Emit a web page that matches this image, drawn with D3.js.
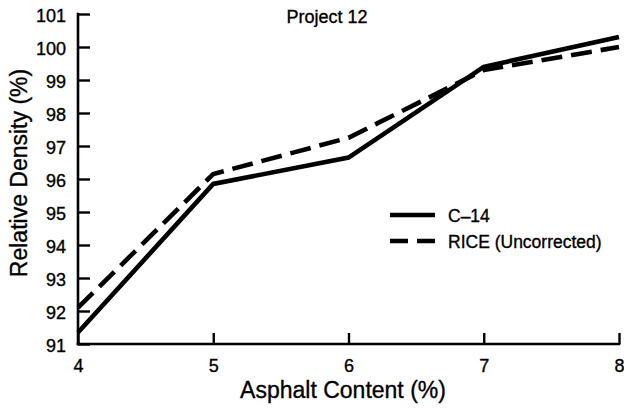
<!DOCTYPE html>
<html>
<head>
<meta charset="utf-8">
<script src="https://cdn.jsdelivr.net/npm/d3@7"></script>
<style>
  html, body { margin: 0; padding: 0; background: #fff; }
  svg { display: block; }
  text { font-family: "Liberation Sans", Arial, Helvetica, sans-serif; fill: #000;
         stroke: #000; stroke-width: 0.35px; }
</style>
</head>
<body>
<script>
// Asphalt content (%) on the x axis
const asphaltContent = [4, 5, 6, 7, 8];
// Relative density (%) for each method
const c14Density = [91.35, 95.85, 96.65, 99.4, 100.3];
const riceDensity = [92.1, 96.15, 97.25, 99.3, 100.0];
const seriesNames = ["C\u201314", "RICE (Uncorrected)"];
const xTicks = [4, 5, 6, 7, 8];
const yTicks = [91, 92, 93, 94, 95, 96, 97, 98, 99, 100, 101];
const chartTitle = "Project 12";
const xTitle = "Asphalt Content (%)";
const yTitle = "Relative Density (%)";

const W = 624, H = 413;
const plotLeft = 78, plotRight = 619, plotTop = 14, plotBottom = 344;

const svg = d3.select("body").append("svg")
  .attr("width", W).attr("height", H);
svg.append("rect").attr("width", W).attr("height", H).attr("fill", "#fff");

const x = d3.scaleLinear().domain([4, 8]).range([plotLeft, plotRight]);
const y = d3.scaleLinear().domain([91, 101]).range([plotBottom, plotTop]);

// Axes: ticks point inward, into the plot area
const xAxis = d3.axisBottom(x).tickValues(xTicks).tickSize(-11).tickPadding(15)
  .tickFormat(d3.format("d"));
const yAxis = d3.axisLeft(y).tickValues(yTicks).tickSize(-12).tickPadding(12)
  .tickFormat(d3.format("d"));

const gx = svg.append("g").attr("transform", `translate(0,${plotBottom})`).call(xAxis);
const gy = svg.append("g").attr("transform", `translate(${plotLeft},0)`).call(yAxis);

[gx, gy].forEach(g => {
  g.select(".domain").attr("stroke", "#000").attr("stroke-width", 2.6)
    .attr("stroke-linecap", "square");
  g.selectAll(".tick line").attr("stroke", "#000").attr("stroke-width", 2.4);
  g.selectAll(".tick text")
    .style("font-family", '"Liberation Sans", Arial, sans-serif')
    .style("font-size", "18px").attr("fill", "#000");
});
gx.select(".domain").attr("d", `M${plotLeft},0H${plotRight}`);
gy.select(".domain").attr("d", `M0,${plotTop}V${plotBottom}`);
gx.selectAll(".tick text").attr("dy", "0.71em");
gy.selectAll(".tick text").attr("dy", "0.42em");

// Data lines
const line = d3.line().x((d, i) => x(asphaltContent[i])).y(d => y(d));
const series = [
  { name: seriesNames[0], values: c14Density, dash: null },
  { name: seriesNames[1], values: riceDensity, dash: "21,9" }
];
series.forEach(s => {
  svg.append("path")
    .datum(s.values)
    .attr("d", line)
    .attr("fill", "none")
    .attr("stroke", "#000")
    .attr("stroke-width", 4.6)
    .attr("stroke-linejoin", "miter")
    .attr("stroke-dasharray", s.dash);
});

// Titles
svg.append("text").attr("x", 327).attr("y", 23).attr("text-anchor", "middle")
  .style("font-size", "18px").text(chartTitle);
svg.append("text").attr("x", 343).attr("y", 398).attr("text-anchor", "middle")
  .style("font-size", "23px").text(xTitle);
svg.append("text")
  .attr("transform", "translate(27,173) rotate(-90)")
  .attr("text-anchor", "middle")
  .style("font-size", "23px").text(yTitle);

// Legend
const legend = svg.append("g").attr("transform", "translate(390,215)");
series.forEach((s, i) => {
  const g = legend.append("g").attr("transform", `translate(0,${i * 26})`);
  g.append("line").attr("x1", 0).attr("x2", 45).attr("y1", 0).attr("y2", 0)
    .attr("stroke", "#000").attr("stroke-width", 4.6)
    .attr("stroke-dasharray", s.dash ? "18,9" : null);
  g.append("text").attr("x", 58).attr("y", 7)
    .style("font-size", "17.5px").text(s.name);
});
</script>
</body>
</html>
